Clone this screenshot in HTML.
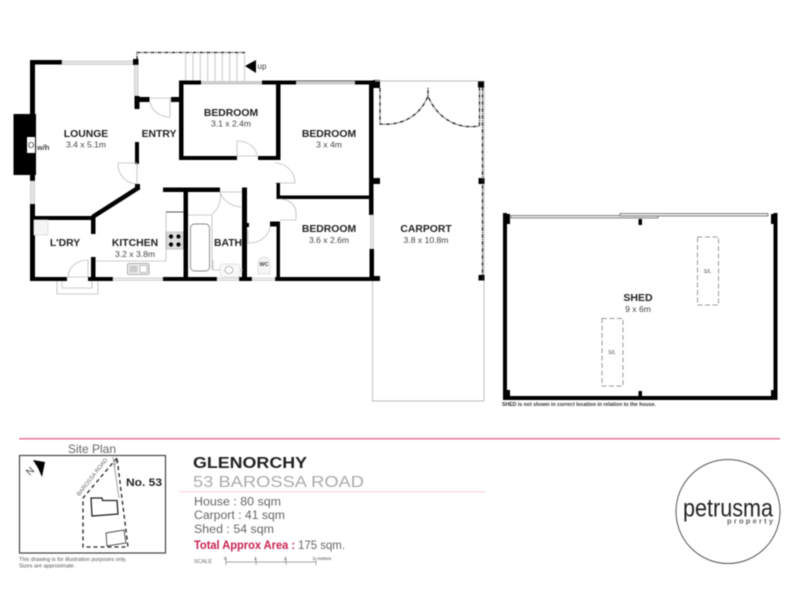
<!DOCTYPE html>
<html><head><meta charset="utf-8"><style>
html,body{margin:0;padding:0;background:#fff;width:800px;height:600px;overflow:hidden}
svg{display:block;filter:blur(.5px)}
text{font-family:"Liberation Sans",sans-serif}
.r{font-weight:bold;font-size:10.4px;fill:#222;text-anchor:middle}
.d{font-size:8.6px;fill:#444;text-anchor:middle}
.w{fill:#000}
.g{fill:#ccc}
.t{fill:none;stroke:#bbb;stroke-width:.8}
.k{fill:none;stroke:#555;stroke-width:.9}
.a{fill:none;stroke:#222;stroke-width:1.3;stroke-dasharray:4 1 1 1}
</style></head><body>
<svg width="800" height="600" viewBox="0 0 800 600" xmlns="http://www.w3.org/2000/svg">
<!-- stairs -->
<path class="a" d="M137 60V52.5H245"/>
<path d="M185.700 53V81M193 53V81M200.300 53V81M207.700 53V81M215 53V81M222.300 53V81M229.700 53V81M237 53V81M244.500 53V81" stroke="#bbb" stroke-width=".8"/>
<polygon points="245,66 256,60 256,73" fill="#000"/>
<text x="257.500" y="69" font-size="8" fill="#444">up</text>
<!-- lounge walls -->
<rect class="w" x="30" y="60" width="32" height="4.500"/>
<rect class="w" x="30" y="60" width="5" height="55"/>
<rect class="w" x="13.500" y="114" width="22.500" height="61"/>
<rect x="27" y="137" width="8" height="16" fill="#fff"/>
<text x="28" y="148" font-size="8" fill="#333">O</text>
<text x="37" y="150" font-size="7.500" font-weight="bold" fill="#444">w/h</text>
<rect class="w" x="30" y="175" width="5" height="6"/>
<rect x="30.500" y="181" width="4" height="24" fill="#e4e4e4" stroke="#bbb" stroke-width=".6"/>
<rect x="62" y="61" width="72" height="3.500" fill="#e4e4e4" stroke="#bbb" stroke-width=".6"/>
<rect class="w" x="133" y="59" width="5.500" height="6"/>
<rect x="134.500" y="65" width="3.500" height="31" fill="#e4e4e4" stroke="#bbb" stroke-width=".6"/>
<rect class="w" x="134.500" y="96" width="5" height="13"/>
<rect class="w" x="134.500" y="97" width="15" height="5"/>
<rect class="w" x="171" y="97" width="10" height="5"/>
<path class="t" d="M150 98H170V117M150 102A20 18 0 0 0 170 117"/>
<rect class="w" x="135" y="142" width="4" height="22"/>
<path class="t" d="M118 163H137V184M118 163A20 20 0 0 0 136 184"/>
<!-- diagonal -->
<rect class="w" x="135" y="184" width="5" height="6"/>
<path d="M138 188L92.500 217" stroke="#000" stroke-width="4.500" fill="none"/>
<!-- laundry -->
<rect class="w" x="30" y="204" width="5" height="77"/>
<rect class="w" x="33" y="216" width="62" height="4"/>
<rect class="w" x="91" y="216" width="4.500" height="18"/>
<rect class="w" x="91" y="257" width="4.500" height="24"/>
<rect class="w" x="30" y="277" width="37" height="4"/>
<rect class="w" x="88" y="277" width="25" height="4"/>
<path class="t" d="M88 260V277H68M88 260A20 17 0 0 0 68 277"/>
<rect x="34" y="220" width="14" height="15" fill="#f5f5f5" stroke="#ddd" stroke-width=".8"/>
<path class="t" d="M57 281V294H98V281M62 281V288H92V281"/>
<rect x="113" y="278" width="50" height="2.500" fill="#eee" stroke="#bbb" stroke-width=".6"/>
<!-- kitchen -->
<rect class="w" x="163" y="187.500" width="57" height="4.500"/>
<rect class="w" x="183.500" y="187.500" width="4.500" height="93"/>
<rect class="w" x="163" y="277" width="54" height="4"/>
<path class="k" d="M166 212H184" stroke="#444"/>
<path class="t" d="M166 212V261H96"/>
<rect x="166.500" y="232" width="16.500" height="17" fill="#ddd" stroke="#aaa" stroke-width=".6"/>
<circle cx="171" cy="236.500" r="2.100"/><circle cx="178.500" cy="236.500" r="2.100"/><circle cx="171" cy="244.500" r="2.100"/><circle cx="178.500" cy="244.500" r="2.100"/>
<rect x="127.500" y="263.500" width="21.500" height="11" rx="1.500" fill="#eee" stroke="#999" stroke-width=".8"/>
<rect x="129.500" y="265.500" width="8" height="7" fill="#ccc"/>
<rect x="140" y="265.500" width="7" height="7" fill="#fff" stroke="#999" stroke-width=".6"/>
<!-- bedroom 1 -->
<rect class="w" x="179" y="81" width="4.500" height="79"/>
<rect class="w" x="179" y="80.500" width="22" height="4"/>
<rect x="201" y="81" width="61" height="3.500" class="g"/>
<rect class="w" x="262" y="80.500" width="103" height="4"/>
<rect class="w" x="276" y="81" width="4.500" height="79"/>
<rect class="w" x="179" y="156" width="58" height="4"/>
<rect class="w" x="258" y="156" width="22" height="4"/>
<path class="t" d="M237 141V156H257M237 141A20 15 0 0 1 257 156"/>
<!-- bedroom 2 -->
<rect x="296" y="81" width="59" height="3.500" fill="#ccc"/>
<rect class="w" x="355" y="80.500" width="20" height="4"/>
<rect class="w" x="369" y="81" width="4.500" height="134"/>
<rect class="w" x="373" y="80" width="7" height="8"/>
<rect class="w" x="373" y="178" width="7" height="6"/>
<rect x="370.500" y="215" width="3" height="34" fill="#e8e8e8" stroke="#bbb" stroke-width=".6"/>
<rect class="w" x="369.500" y="249" width="4.500" height="32"/>
<rect class="w" x="373" y="276" width="7" height="5"/>
<path class="t" d="M275 163A20 20 0 0 1 295 183H275"/>
<rect class="w" x="276.500" y="183" width="3.500" height="16"/>
<rect class="w" x="276.500" y="195.500" width="97" height="3.500"/>
<path class="t" d="M280 199A16 14 0 0 1 296 211V220H280"/>
<!-- bath / WC -->
<rect class="w" x="242" y="187.500" width="5" height="93"/>
<rect class="w" x="246" y="223" width="3" height="4"/>
<rect class="w" x="239" y="277" width="13" height="4"/>
<rect class="w" x="270" y="221.500" width="8" height="5"/>
<rect class="w" x="276.500" y="221.500" width="3.500" height="59"/>
<rect class="w" x="275" y="277" width="100" height="4"/>
<path class="t" d="M188 215H212V270M213 260V270H243M220 192H242M220 192A24 20 0 0 0 241 207M220 192A22 22 0 0 1 212 214"/>
<path class="t" d="M270 226A21 18 0 0 1 250 243H248V230"/>
<rect x="190.500" y="224" width="19" height="47" rx="4" fill="#fff" stroke="#888" stroke-width=".9"/>
<rect x="220" y="264" width="20" height="13" rx="3" fill="#f8f8f8" stroke="#ddd" stroke-width=".8"/>
<ellipse cx="229" cy="270" rx="4" ry="3.500" fill="#fff" stroke="#aaa" stroke-width=".8"/>
<rect x="217" y="278" width="22" height="2.500" fill="#eee" stroke="#bbb" stroke-width=".5"/>
<rect x="252" y="278" width="23" height="2.500" fill="#eee" stroke="#bbb" stroke-width=".5"/>
<path d="M258 274V264A6 7 0 0 1 270 264V274Z" fill="#f5f5f5" stroke="#ddd" stroke-width=".8"/>
<text x="264" y="266" font-size="5.500" font-weight="bold" fill="#444" text-anchor="middle">WC</text>
<!-- carport -->
<path d="M372.500 281V401H484V81H375" fill="none" stroke="#bbb" stroke-width=".9"/>
<rect class="w" x="478" y="81.500" width="6" height="6"/>
<rect class="w" x="478.500" y="178" width="6" height="6"/>
<rect class="w" x="478.500" y="275" width="6" height="5.500"/>
<path class="a" d="M380 88V124C402 126 420 116 428 96V87M479.500 87V126C455 130 436 116 428 96"/>
<path class="a" d="M482.500 87V280"/>
<!-- shed -->
<rect class="w" x="503" y="213" width="4" height="187"/>
<rect class="w" x="503" y="214" width="7" height="10"/>
<rect class="w" x="503" y="396" width="274.500" height="4"/>
<rect class="w" x="773.500" y="213" width="4" height="187"/>
<rect class="w" x="771" y="214" width="6" height="10"/>
<rect class="w" x="503" y="390" width="7" height="7"/>
<rect class="w" x="771" y="390" width="4" height="7"/>
<rect class="w" x="638.500" y="219" width="3.500" height="6"/>
<rect class="w" x="638.500" y="391" width="3.500" height="6"/>
<rect x="511" y="215.500" width="147" height="2.500" fill="#eee" stroke="#666" stroke-width=".8"/>
<rect x="620" y="213.500" width="148" height="2.500" fill="#eee" stroke="#666" stroke-width=".8"/>
<rect x="697.500" y="237" width="21" height="68" fill="none" stroke="#999" stroke-width="1" stroke-dasharray="5 2.500"/>
<rect x="602" y="318.500" width="21" height="67.500" fill="none" stroke="#999" stroke-width="1" stroke-dasharray="5 2.500"/>
<text x="707.500" y="273" font-size="5" fill="#444" text-anchor="middle">S/L</text>
<text x="612" y="354" font-size="5" fill="#444" text-anchor="middle">S/L</text>
<text x="638" y="301" font-size="10.500" font-weight="bold" fill="#222" text-anchor="middle">SHED</text>
<text x="638" y="312" font-size="8.600" fill="#444" text-anchor="middle">9 x 6m</text>
<text x="502" y="406" font-size="5" font-weight="bold" fill="#333" textLength="154" lengthAdjust="spacingAndGlyphs">SHED is not shown in correct location in relation to the house.</text>
<!-- room labels -->
<text class="r" x="86" y="137">LOUNGE</text><text class="d" x="86" y="147.500">3.4 x 5.1m</text>
<text class="r" x="159" y="137">ENTRY</text>
<text class="r" x="231" y="116">BEDROOM</text><text class="d" x="231" y="126.500">3.1 x 2.4m</text>
<text class="r" x="329" y="137">BEDROOM</text><text class="d" x="329" y="147.500">3 x 4m</text>
<text class="r" x="329" y="232">BEDROOM</text><text class="d" x="329" y="243">3.6 x 2.6m</text>
<text class="r" x="426" y="232">CARPORT</text><text class="d" x="426" y="243">3.8 x 10.8m</text>
<text class="r" x="65" y="246">L'DRY</text>
<text class="r" x="135" y="246">KITCHEN</text><text class="d" x="135" y="257">3.2 x 3.8m</text>
<text class="r" x="228" y="246">BATH</text>
<!-- footer -->
<rect x="19" y="438" width="761" height="1.500" fill="#e8769a"/>
<text x="92" y="453" font-size="12" fill="#666" text-anchor="middle">Site Plan</text>
<rect x="19.500" y="455.500" width="146" height="97.500" fill="none" stroke="#444" stroke-width="1.200"/>
<polygon points="33,460 45,462 42,477 38,468" fill="#000"/>
<text x="30" y="474.500" font-size="10" fill="#444" text-anchor="middle" transform="rotate(-45 30 471)">N</text>
<text x="92" y="479" font-size="5.800" fill="#666" text-anchor="middle" transform="rotate(-52 92 477)">BAROSSA ROAD</text>
<path d="M113 457L119 498M114 467L117 460" stroke="#777" stroke-width=".7" fill="none"/>
<path d="M117 458L83 498V547L128 547L117 458" fill="none" stroke="#222" stroke-width="1.300" stroke-dasharray="4 3"/>
<path d="M91 498H102L102.500 500.500H117L118 514L92 516Z" fill="#fff" stroke="#222" stroke-width="1.300"/>
<path d="M106 533L124 530L126 543L107 546Z" fill="#fff" stroke="#444" stroke-width=".9"/>
<text x="126" y="486" font-size="11" font-weight="bold" fill="#222" textLength="36" lengthAdjust="spacingAndGlyphs">No. 53</text>
<text x="19" y="561" font-size="5.500" fill="#555">This drawing is for illustration purposes only.</text>
<text x="19" y="567.500" font-size="5.500" fill="#555">Sizes are approximate.</text>
<text x="193" y="468" font-size="15.500" font-weight="bold" fill="#222" textLength="114" lengthAdjust="spacingAndGlyphs">GLENORCHY</text>
<text x="193" y="487" font-size="16" fill="#aaa" textLength="171" lengthAdjust="spacingAndGlyphs">53 BAROSSA ROAD</text>
<path d="M180 491.700H485" stroke="#ee9ab5" stroke-width="1" stroke-dasharray="1 1"/>
<text x="194" y="505.500" font-size="11.500" fill="#666" textLength="87" lengthAdjust="spacingAndGlyphs">House : 80 sqm</text>
<text x="194" y="519" font-size="11.500" fill="#666" textLength="91" lengthAdjust="spacingAndGlyphs">Carport : 41 sqm</text>
<text x="194" y="533" font-size="11.500" fill="#666" textLength="80" lengthAdjust="spacingAndGlyphs">Shed : 54 sqm</text>
<text x="194" y="549" font-size="11.500" font-weight="bold" fill="#c8214f" textLength="101" lengthAdjust="spacingAndGlyphs">Total Approx Area :</text>
<text x="298" y="549" font-size="11.500" fill="#666" textLength="47" lengthAdjust="spacingAndGlyphs">175 sqm.</text>
<text x="194" y="563" font-size="5" fill="#666" textLength="18" lengthAdjust="spacingAndGlyphs">SCALE</text>
<path d="M226 562H316M226 558V565M256 558V565M286 558V565M316 558V565" stroke="#888" stroke-width=".7" fill="none"/>
<g font-size="4.500" fill="#444"><text x="224" y="560">0</text><text x="254" y="560">1</text><text x="284" y="560">2</text><text x="312.500" y="560">3</text><text x="317.500" y="560">metres</text></g>
<circle cx="728" cy="511.500" r="52" fill="#fff" stroke="#555" stroke-width="1"/>
<text x="683" y="516.500" font-size="25" fill="#222" textLength="90" lengthAdjust="spacingAndGlyphs">petrusma</text>
<text x="727" y="523.500" font-size="7.500" font-weight="bold" fill="#666" textLength="46" lengthAdjust="spacing">property</text>
</svg>
</body></html>
